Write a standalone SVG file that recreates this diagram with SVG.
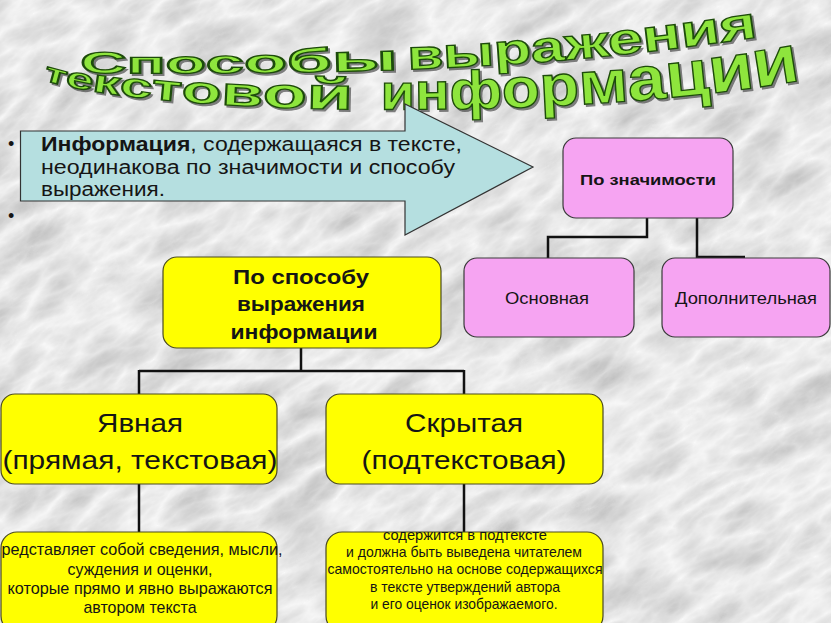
<svg xmlns="http://www.w3.org/2000/svg" width="831" height="623" viewBox="0 0 831 623">
<style>
.title{font-family:"Liberation Sans",Arial,sans-serif;font-weight:bold;fill:#8ee53c;stroke:#1f4c08;stroke-width:1.3;filter:url(#shadow)}
.box-p{fill:#f6a4f2;stroke:#3a3a3a;stroke-width:1.2}
.box-y{fill:#ffff00;stroke:#4a4a20;stroke-width:1.2}
.conn{fill:none;stroke:#111;stroke-width:2.5}
.t{font-family:"Liberation Sans",Arial,sans-serif;fill:#151515}
.c{text-anchor:middle}
.b{font-weight:bold}
</style>
<defs>
<filter id="marble" x="0" y="0" width="100%" height="100%">
<feTurbulence type="turbulence" baseFrequency="0.012 0.028" numOctaves="5" seed="11"/>
<feColorMatrix type="matrix" values="-0.5 0 0 0 0.95  -0.5 0 0 0 0.95  -0.5 0 0 0 0.95  0 0 0 0 1"/>
</filter>
<filter id="shadow" x="-5%" y="-20%" width="110%" height="150%">
<feDropShadow dx="2" dy="2" stdDeviation="0.6" flood-color="#333" flood-opacity="0.6"/>
</filter>
<path id="t1" d="M 80 73 C 350 74 520 72 752 38"/>
<path id="t2" d="M 43 80 C 150 115 550 123 792 82"/>
</defs>
<g id="background" transform="rotate(-32 415 311)">
<rect x="-350" y="-350" width="1530" height="1320" fill="#fff" filter="url(#marble)"/>
</g>

<g id="title">
<text class="title"><textPath href="#t1" startOffset="0" textLength="318" lengthAdjust="spacingAndGlyphs"><tspan font-size="30">Сп</tspan><tspan font-size="31">о</tspan><tspan font-size="32">с</tspan><tspan font-size="33">о</tspan><tspan font-size="34">б</tspan><tspan font-size="36">ы</tspan></textPath></text>
<text class="title"><textPath href="#t1" startOffset="328" textLength="352" lengthAdjust="spacingAndGlyphs"><tspan font-size="41">в</tspan><tspan font-size="42">ы</tspan><tspan font-size="43">ра</tspan><tspan font-size="44">же</tspan><tspan font-size="45">ния</tspan></textPath></text>
<text class="title"><textPath href="#t2" startOffset="0" textLength="312" lengthAdjust="spacingAndGlyphs"><tspan font-size="27">т</tspan><tspan font-size="29">е</tspan><tspan font-size="32">к</tspan><tspan font-size="34">с</tspan><tspan font-size="36">т</tspan><tspan font-size="38">о</tspan><tspan font-size="40">в</tspan><tspan font-size="42">о</tspan><tspan font-size="44">й</tspan></textPath></text>
<text class="title"><textPath href="#t2" startOffset="340" textLength="422" lengthAdjust="spacingAndGlyphs"><tspan font-size="50">и</tspan><tspan font-size="52">н</tspan><tspan font-size="54">ф</tspan><tspan font-size="56">о</tspan><tspan font-size="58">р</tspan><tspan font-size="60">м</tspan><tspan font-size="62">а</tspan><tspan font-size="64">ц</tspan><tspan font-size="66">и</tspan><tspan font-size="68">и</tspan></textPath></text>
</g>

<g id="intro">
<path d="M 20.5 131 H 405 V 104 L 533 167 L 405 235 V 201 H 20.5 Z" fill="#b5dfe0" stroke="#333" stroke-width="1.2"/>
<text class="t" x="8" y="150" font-size="18">•</text>
<text class="t" x="8" y="222" font-size="18">•</text>
<text class="t" x="41" y="151" font-size="19.5" textLength="421" lengthAdjust="spacingAndGlyphs"><tspan class="b">Информация</tspan>, содержащаяся в тексте,</text>
<text class="t" x="41" y="174" font-size="19.5" textLength="414" lengthAdjust="spacingAndGlyphs">неодинакова по значимости и способу</text>
<text class="t" x="41" y="196" font-size="19.5" textLength="124" lengthAdjust="spacingAndGlyphs">выражения.</text>
</g>

<g id="connectors">
<path class="conn" d="M 647 218 V 237 H 548 V 258"/>
<path class="conn" d="M 697 218 V 258 M 697 257 H 745"/>
<path class="conn" d="M 301 348 V 371 M 139 371 H 464 M 139 370 V 394 M 464 370 V 394"/>
<path class="conn" d="M 139 484 V 532 M 464 484 V 532"/>
</g>

<g id="n-znach">
<rect class="box-p" x="563" y="138" width="170" height="80" rx="13"/>
<text class="t c b" x="648" y="185" font-size="15.5" textLength="136" lengthAdjust="spacingAndGlyphs">По значимости</text>
</g>
<g id="n-osn">
<rect class="box-p" x="464" y="258" width="170" height="79" rx="13"/>
<text class="t c" x="547" y="304" font-size="16" fill="#2a2a2a" textLength="84" lengthAdjust="spacingAndGlyphs">Основная</text>
</g>
<g id="n-dop">
<rect class="box-p" x="662" y="258" width="168" height="79" rx="13"/>
<text class="t c" x="746" y="304" font-size="16" fill="#2a2a2a" textLength="142" lengthAdjust="spacingAndGlyphs">Дополнительная</text>
</g>

<g id="n-sposob">
<rect class="box-y" x="163" y="257" width="278" height="91" rx="14"/>
<text class="t c b" x="301" y="284" font-size="20.5" textLength="136" lengthAdjust="spacingAndGlyphs">По способу</text>
<text class="t c b" x="301" y="311" font-size="20.5" textLength="128" lengthAdjust="spacingAndGlyphs">выражения</text>
<text class="t c b" x="304" y="339" font-size="20.5" textLength="147" lengthAdjust="spacingAndGlyphs">информации</text>
</g>

<g id="n-yavnaya">
<rect class="box-y" x="1" y="394" width="276" height="90" rx="14"/>
<text class="t c" x="140" y="432" font-size="25" textLength="86" lengthAdjust="spacingAndGlyphs">Явная</text>
<text class="t c" x="140" y="469" font-size="25" textLength="275" lengthAdjust="spacingAndGlyphs">(прямая, текстовая)</text>
</g>
<g id="n-skrytaya">
<rect class="box-y" x="326" y="394" width="277" height="90" rx="14"/>
<text class="t c" x="464" y="432" font-size="25" textLength="118" lengthAdjust="spacingAndGlyphs">Скрытая</text>
<text class="t c" x="464" y="469" font-size="25" textLength="205" lengthAdjust="spacingAndGlyphs">(подтекстовая)</text>
</g>

<g id="n-yavnaya-desc">
<rect class="box-y" x="1" y="532" width="276" height="100" rx="16"/>
<text class="t c" x="142" y="555" font-size="17" textLength="281" lengthAdjust="spacingAndGlyphs">редставляет собой сведения, мысли,</text>
<text class="t c" x="140" y="575" font-size="17" textLength="145" lengthAdjust="spacingAndGlyphs">суждения и оценки,</text>
<text class="t c" x="140" y="594" font-size="17" textLength="265" lengthAdjust="spacingAndGlyphs">которые прямо и явно выражаются</text>
<text class="t c" x="140" y="613" font-size="17" textLength="113" lengthAdjust="spacingAndGlyphs">автором текста</text>
</g>
<g id="n-skrytaya-desc">
<rect class="box-y" x="326" y="532" width="277" height="100" rx="16"/>
<text class="t c" x="465" y="540" font-size="14.5" textLength="164" lengthAdjust="spacingAndGlyphs">содержится в подтексте</text>
<text class="t c" x="464" y="557" font-size="14.5" textLength="236" lengthAdjust="spacingAndGlyphs">и должна быть выведена читателем</text>
<text class="t c" x="465" y="574" font-size="14.5" textLength="275" lengthAdjust="spacingAndGlyphs">самостоятельно на основе содержащихся</text>
<text class="t c" x="465" y="592" font-size="14.5" textLength="190" lengthAdjust="spacingAndGlyphs">в тексте утверждений автора</text>
<text class="t c" x="464" y="609" font-size="14.5" textLength="187" lengthAdjust="spacingAndGlyphs">и его оценок изображаемого.</text>
</g>
</svg>
